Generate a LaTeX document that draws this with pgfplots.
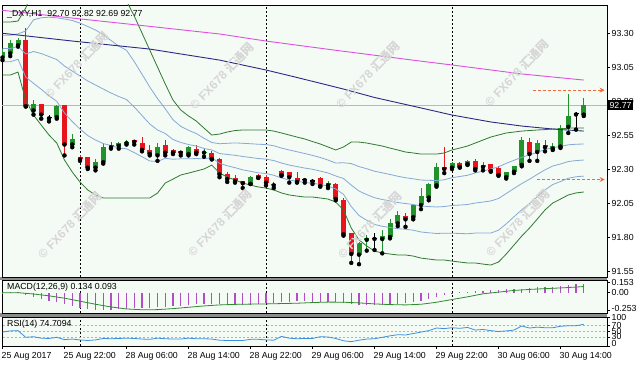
\documentclass[border=0pt]{standalone}
\usepackage{pgfplots}
\pgfplotsset{compat=1.18}
\usepackage{pgfplotstable}
\usepackage{fontspec}
\setmainfont{Liberation Sans}
\newfontfamily\cjk{Noto Sans CJK SC}
\usetikzlibrary{arrows.meta}
\definecolor{plotbg}{HTML}{F4FAF4}
\definecolor{cgreen}{HTML}{22922A}
\definecolor{cred}{HTML}{E8141C}
\definecolor{bbgreen}{HTML}{2F7A2F}
\definecolor{bbblue}{HTML}{86A9D6}
\definecolor{navyline}{HTML}{2A2A86}
\definecolor{magline}{HTML}{E050E0}
\definecolor{macdpurple}{HTML}{B44CC8}
\definecolor{sigline}{HTML}{2E8B2E}
\definecolor{rsiblue}{HTML}{3D8FDB}
\definecolor{arrorange}{HTML}{F06A3C}
\definecolor{sepgray}{HTML}{8C8C8C}

\pgfplotstableread{
i O H L C
0 93.12 93.18 93.10 93.16
1 93.15 93.25 93.13 93.23
2 93.21 93.26 93.20 93.25
4 92.73 92.81 92.70 92.78
7 92.68 92.77 92.67 92.76
9 92.48 92.56 92.46 92.52
12 92.31 92.37 92.29 92.35
13 92.35 92.49 92.34 92.46
15 92.47 92.50 92.45 92.49
16 92.49 92.51 92.48 92.50
20 92.40 92.49 92.36 92.46
24 92.41 92.47 92.40 92.46
26 92.42 92.45 92.39 92.428
32 92.19 92.25 92.19 92.24
42 92.18 92.21 92.16 92.20
46 91.67 91.765 91.60 91.755
47 91.78 91.815 91.70 91.795
49 91.785 91.85 91.68 91.81
50 91.80 91.93 91.79 91.90
51 91.90 91.99 91.88 91.96
53 91.945 92.045 91.93 92.035
54 92.035 92.16 92.005 92.10
55 92.09 92.20 92.07 92.19
56 92.18 92.345 92.17 92.315
58 92.31 92.355 92.30 92.345
60 92.335 92.365 92.33 92.36
62 92.315 92.35 92.29 92.33
65 92.24 92.28 92.23 92.275
66 92.28 92.325 92.27 92.32
67 92.33 92.535 92.32 92.515
69 92.425 92.51 92.36 92.49
71 92.45 92.49 92.44 92.47
72 92.465 92.62 92.455 92.60
73 92.61 92.85 92.565 92.69
75 92.70 92.82 92.69 92.77
}\bull

\pgfplotstableread{
i O H L C
3 93.25 93.34 92.76 92.76
5 92.78 92.78 92.67 92.70
8 92.77 92.77 92.40 92.48
10 92.39 92.40 92.36 92.37
11 92.39 92.39 92.30 92.31
14 92.48 92.50 92.45 92.46
17 92.51 92.51 92.48 92.50
18 92.49 92.535 92.43 92.44
19 92.44 92.48 92.40 92.41
21 92.48 92.51 92.40 92.42
22 92.44 92.45 92.41 92.42
23 92.43 92.43 92.40 92.42
25 92.45 92.48 92.41 92.42
27 92.42 92.43 92.37 92.375
28 92.37 92.38 92.24 92.26
29 92.26 92.275 92.205 92.225
30 92.235 92.255 92.20 92.21
31 92.21 92.21 92.16 92.195
33 92.255 92.26 92.235 92.235
34 92.24 92.255 92.18 92.20
35 92.19 92.205 92.16 92.18
36 92.285 92.29 92.25 92.255
37 92.28 92.28 92.20 92.24
38 92.235 92.28 92.20 92.205
41 92.235 92.24 92.17 92.175
43 92.19 92.20 92.07 92.08
44 92.07 92.09 91.81 91.82
45 91.83 91.83 91.61 91.675
52 91.955 91.975 91.875 91.93
57 92.315 92.46 92.27 92.30
59 92.345 92.35 92.31 92.315
61 92.36 92.37 92.29 92.30
63 92.335 92.34 92.28 92.285
64 92.31 92.32 92.25 92.255
68 92.50 92.53 92.36 92.41
70 92.475 92.51 92.43 92.46
}\bear

\pgfplotstableread{
i O H L C
6 92.672 92.70 92.65 92.680
39 92.218 92.235 92.20 92.226
40 92.208 92.225 92.19 92.216
48 91.786 91.83 91.705 91.794
74 92.701 92.72 92.59 92.709
}\doji

\pgfplotstableread{
i GU BU M BL GL
0 93.381 93.283 93.186 93.089 92.991
1 93.381 93.283 93.186 93.089 92.991
2 93.388 93.294 93.201 93.107 93.013
3 93.484 93.315 93.146 92.976 92.807
4 93.631 93.397 93.164 92.930 92.697
5 93.675 93.412 93.149 92.886 92.623
6 93.704 93.416 93.127 92.839 92.550
7 93.719 93.412 93.105 92.798 92.491
8 93.748 93.403 93.057 92.712 92.366
9 93.763 93.392 93.020 92.649 92.278
10 93.763 93.373 92.984 92.594 92.204
11 93.748 93.348 92.947 92.546 92.146
12 93.726 93.322 92.918 92.513 92.109
13 93.690 93.289 92.888 92.487 92.087
14 93.631 93.245 92.859 92.473 92.087
15 93.579 93.204 92.833 92.453 92.087
16 93.535 93.173 92.811 92.449 92.087
17 93.425 93.090 92.756 92.421 92.087
18 93.300 92.997 92.693 92.390 92.087
19 93.175 92.903 92.631 92.359 92.087
20 93.050 92.818 92.587 92.355 92.123
21 92.925 92.743 92.561 92.379 92.197
22 92.807 92.662 92.517 92.372 92.226
23 92.734 92.614 92.495 92.375 92.256
24 92.690 92.585 92.480 92.375 92.270
25 92.653 92.561 92.469 92.377 92.285
26 92.601 92.526 92.451 92.375 92.300
27 92.550 92.495 92.440 92.384 92.329
28 92.557 92.486 92.414 92.342 92.271
29 92.572 92.489 92.407 92.324 92.241
30 92.583 92.492 92.401 92.310 92.219
31 92.587 92.489 92.392 92.294 92.197
32 92.587 92.486 92.385 92.283 92.182
33 92.587 92.482 92.377 92.272 92.168
34 92.587 92.480 92.373 92.267 92.160
35 92.579 92.471 92.362 92.254 92.146
36 92.565 92.454 92.344 92.234 92.124
37 92.550 92.440 92.329 92.219 92.109
38 92.535 92.427 92.318 92.210 92.101
39 92.521 92.414 92.307 92.201 92.094
40 92.502 92.400 92.298 92.196 92.094
41 92.484 92.385 92.285 92.186 92.087
42 92.462 92.366 92.271 92.175 92.079
43 92.440 92.344 92.249 92.153 92.057
44 92.462 92.346 92.230 92.114 91.999
45 92.498 92.340 92.182 92.024 91.866
46 92.498 92.318 92.138 91.958 91.778
47 92.491 92.302 92.112 91.923 91.734
48 92.480 92.284 92.089 91.893 91.697
49 92.469 92.272 92.076 91.879 91.682
50 92.454 92.260 92.065 91.870 91.675
51 92.440 92.247 92.054 91.861 91.668
52 92.425 92.236 92.046 91.857 91.668
53 92.418 92.228 92.039 91.850 91.660
54 92.410 92.219 92.028 91.837 91.645
55 92.410 92.217 92.024 91.831 91.638
56 92.410 92.215 92.021 91.826 91.631
57 92.418 92.221 92.024 91.828 91.631
58 92.440 92.236 92.032 91.828 91.623
59 92.454 92.245 92.035 91.826 91.616
60 92.469 92.254 92.039 91.824 91.609
61 92.491 92.271 92.050 91.829 91.609
62 92.513 92.285 92.057 91.829 91.601
63 92.535 92.300 92.065 91.829 91.594
64 92.550 92.316 92.083 91.850 91.616
65 92.565 92.342 92.120 91.897 91.675
66 92.572 92.364 92.157 91.949 91.741
67 92.579 92.386 92.193 92.000 91.807
68 92.583 92.404 92.225 92.046 91.866
69 92.587 92.423 92.260 92.096 91.932
70 92.590 92.443 92.294 92.146 91.999
71 92.594 92.458 92.322 92.186 92.050
72 92.594 92.465 92.337 92.208 92.079
73 92.601 92.478 92.355 92.232 92.109
74 92.601 92.482 92.362 92.243 92.124
75 92.601 92.484 92.366 92.248 92.131
}\bands

\pgfplotstableread{
i v
-1 93.305
0 93.298
9 93.241
19 93.182
28 93.101
34 93.028
38 92.973
44 92.888
48 92.826
54 92.749
58 92.697
63 92.646
67 92.616
71 92.594
75 92.579
}\navyma

\pgfplotstableread{
i v
-1 93.473
0 93.467
9 93.410
19 93.349
28 93.293
34 93.241
43 93.173
54 93.093
58 93.065
67 92.999
75 92.954
}\magma

\pgfplotstableread{
i v
0 0.004
1 0.006
2 0.008
3 -0.035
4 -0.057
5 -0.097
6 -0.122
7 -0.132
8 -0.171
9 -0.196
10 -0.221
11 -0.246
12 -0.253
13 -0.253
14 -0.253
15 -0.246
16 -0.246
17 -0.231
18 -0.231
19 -0.221
20 -0.206
21 -0.206
22 -0.196
23 -0.196
24 -0.181
25 -0.171
26 -0.171
27 -0.166
28 -0.171
29 -0.181
30 -0.181
31 -0.181
32 -0.181
33 -0.171
34 -0.156
35 -0.156
36 -0.142
37 -0.132
38 -0.122
39 -0.122
40 -0.132
41 -0.132
42 -0.132
43 -0.142
44 -0.156
45 -0.171
46 -0.181
47 -0.181
48 -0.181
49 -0.181
50 -0.181
51 -0.171
52 -0.156
53 -0.142
54 -0.117
55 -0.097
56 -0.057
57 -0.033
58 -0.008
59 0.012
60 0.017
61 0.027
62 0.032
63 0.042
64 0.042
65 0.052
66 0.056
67 0.056
68 0.076
69 0.081
70 0.086
71 0.091
72 0.106
73 0.116
74 0.131
75 0.134
}\macdhist

\pgfplotstableread{
i v
-1 0.002
0 0.002
2 0.002
4 -0.018
6 -0.045
8 -0.080
10 -0.125
12 -0.170
14 -0.210
16 -0.240
18 -0.252
20 -0.250
22 -0.235
24 -0.215
26 -0.195
28 -0.180
30 -0.172
32 -0.168
34 -0.165
36 -0.160
38 -0.155
40 -0.145
42 -0.138
44 -0.140
46 -0.150
48 -0.165
50 -0.175
52 -0.180
54 -0.170
55 -0.156
56 -0.140
57 -0.120
58 -0.100
60 -0.060
62 -0.015
64 0.010
66 0.035
68 0.050
70 0.062
72 0.072
74 0.085
75 0.093
}\macdsig

\pgfplotstableread{
i v
0 48
1 52
2 53
3 30
4 32
5 27
6 26
7 30
8 22
9 24
10 21
11 19
12 21
13 26
14 25
15 26
16 27
17 26
18 24
19 23
20 27
21 25
22 24
23 24
24 27
25 25
26 25
27 24
28 20
29 19
30 19
31 19
32 23
33 23
34 21
35 20
36 33
37 27
38 25
39 26
40 26
41 32
42 31
43 26
44 18
45 15
46 20
47 24
48 25
49 30
50 35
51 39
52 38
53 43
54 48
55 53
56 62
57 60
58 63
59 61
60 64
61 55
62 57
63 53
64 50
65 52
66 55
67 69
68 62
69 65
70 63
71 63
72 68
73 70
74 70
75 74.7
}\rsi

\begin{document}
\begin{tikzpicture}
\useasboundingbox (0,0) rectangle (640bp,372bp);
\fill[white] (0,0) rectangle (640bp,372bp);
\fill[sepgray] (0bp,92bp) rectangle (607.4bp,95bp);
\fill[sepgray] (0bp,55bp) rectangle (607.4bp,59bp);

\pgfplotsset{panel/.style={
  scale only axis, width=605bp, xmin=-0.065, xmax=78.0,
  axis background/.style={fill=plotbg},
  axis line style={black, line width=0.8bp},
  tick style={black, line width=0.6bp}, major tick length=3bp,
  tick align=outside, ytick pos=right, yticklabel pos=right,
  yticklabel style={anchor=west, inner sep=0pt, xshift=1.5bp},
  tick label style={font=\fontsize{8.8}{10}\selectfont},
  /pgf/number format/assume math mode=true,
  xtick=\empty,
  extra x ticks={10,34,58}, extra x tick labels={,,},
  extra x tick style={grid=major, major tick length=0pt,
     major grid style={black, line width=0.6bp, dash pattern=on 2bp off 2bp}},
}}

% ---------------- main price panel
\begin{axis}[panel, at={(2bp,95bp)}, anchor=south west, height=272bp,
  ymin=91.506, ymax=93.506,
  ytick={91.55,91.80,92.05,92.30,92.55,92.80,93.05,93.30},
  yticklabels={91.55,91.80,92.05,92.30,92.55,92.80,93.05,93.30},
  extra y ticks={92.77}, extra y tick labels={},
  extra y tick style={grid=major, major tick length=0pt, major grid style={gray!55, line width=0.6bp}},
]
% wicks
\addplot[only marks, mark=none, forget plot, error bars/.cd, y dir=plus, y explicit, error mark=none,
  error bar style={line width=1bp, draw=cgreen}] table[x=i, y=L, y error plus expr=\thisrow{H}-\thisrow{L}] {\bull};
\addplot[only marks, mark=none, forget plot, error bars/.cd, y dir=plus, y explicit, error mark=none,
  error bar style={line width=1bp, draw=cred}] table[x=i, y=L, y error plus expr=\thisrow{H}-\thisrow{L}] {\bear};
\addplot[only marks, mark=none, forget plot, error bars/.cd, y dir=plus, y explicit, error mark=none,
  error bar style={line width=1bp, draw=black}] table[x=i, y=L, y error plus expr=\thisrow{H}-\thisrow{L}] {\doji};
% bodies
\addplot[only marks, mark=none, forget plot, error bars/.cd, y dir=plus, y explicit, error mark=none,
  error bar style={line width=5bp, draw=cgreen}] table[x=i, y=O, y error plus expr=\thisrow{C}-\thisrow{O}] {\bull};
\addplot[only marks, mark=none, forget plot, error bars/.cd, y dir=plus, y explicit, error mark=none,
  error bar style={line width=5bp, draw=cred}] table[x=i, y=C, y error plus expr=\thisrow{O}-\thisrow{C}] {\bear};
\addplot[only marks, mark=none, forget plot, error bars/.cd, y dir=plus, y explicit, error mark=none,
  error bar style={line width=5bp, draw=black}] table[x=i, y=O, y error plus expr=\thisrow{C}-\thisrow{O}] {\doji};
% indicator lines
\addplot[bbgreen, line width=0.8bp] table[x=i, y=GU] {\bands};
\addplot[bbgreen, line width=0.8bp] table[x=i, y=GL] {\bands};
\addplot[bbblue, line width=0.8bp] table[x=i, y=BU] {\bands};
\addplot[bbblue, line width=0.8bp] table[x=i, y=M] {\bands};
\addplot[bbblue, line width=0.8bp] table[x=i, y=BL] {\bands};
\addplot[navyline, line width=0.9bp] table[x=i, y=v] {\navyma};
\addplot[magline, line width=0.9bp] table[x=i, y=v] {\magma};
% support / resistance arrows
\draw[arrorange, line width=0.8bp, dash pattern=on 3bp off 2bp, -{Stealth[length=5bp,width=5bp]}] (axis cs:68.5,92.88) -- (axis cs:77.7,92.88);
\draw[arrorange, line width=0.8bp, dash pattern=on 3bp off 2bp, -{Stealth[length=5bp,width=5bp]}] (axis cs:69.0,92.223) -- (axis cs:77.7,92.223);
\coordinate (bid) at (axis cs:78.0,92.77);
\end{axis}

% ---------------- MACD panel
\begin{axis}[panel, at={(2bp,59bp)}, anchor=south west, height=33bp,
  ymin=-0.30, ymax=0.19,
  ytick={-0.253,0,0.153},
  yticklabels={\raisebox{2.8bp}{-0.253},0.00,\raisebox{-3.2bp}{0.153}},
]
\addplot[ycomb, macdpurple, line width=1.2bp] table[x=i, y=v] {\macdhist};
\addplot[sigline, line width=0.8bp] table[x=i, y=v] {\macdsig};
\end{axis}

% ---------------- RSI panel
\begin{axis}[panel, at={(2bp,26bp)}, anchor=south west, height=29bp,
  ymin=0, ymax=100,
  ytick={0,30,50,70,100},
  yticklabels={\raisebox{4.5bp}{0},\raisebox{1bp}{30},50,70,\raisebox{-4bp}{100}},
  xtick={0,8,16,24,32,40,48,56,64,72},
  xticklabels={25 Aug 2017,25 Aug 22:00,28 Aug 06:00,28 Aug 14:00,28 Aug 22:00,29 Aug 06:00,29 Aug 14:00,29 Aug 22:00,30 Aug 06:00,30 Aug 14:00},
  xtick pos=left,
  xticklabel style={anchor=north west, inner sep=0pt, xshift=-1bp, yshift=-3.5bp},
]
\draw[gray!60, line width=0.5bp, dash pattern=on 2bp off 2bp] (axis cs:-1,70) -- (axis cs:80,70);
\draw[gray!60, line width=0.5bp, dash pattern=on 2bp off 2bp] (axis cs:-1,50) -- (axis cs:80,50);
\draw[gray!60, line width=0.5bp, dash pattern=on 2bp off 2bp] (axis cs:-1,30) -- (axis cs:80,30);
\addplot[rsiblue, line width=0.8bp] table[x=i, y=v] {\rsi};
\end{axis}

% labels
\node[anchor=west, inner sep=0pt, font=\fontsize{8.8}{10}\selectfont] at (7bp,358bp) {\_DXY,H1\ \ 92.70 92.82 92.69 92.77};
\node[anchor=west, inner sep=0pt, font=\fontsize{8.8}{10}\selectfont] at (7bp,84.7bp) {MACD(12,26,9) 0.134 0.093};
\node[anchor=west, inner sep=0pt, font=\fontsize{8.8}{10}\selectfont] at (7bp,48bp) {RSI(14) 74.7094};
\node[anchor=west, fill=black, text=white, inner xsep=1.8bp, inner ysep=2bp, font=\fontsize{8.8}{10}\selectfont] at ([xshift=0.6bp]bid) {92.77};

% watermarks
\foreach \wx/\wy in {77/307, 222/296, 368/297, 517/299, 70/147, 220/149, 370/147, 518/149}{
  \node[rotate=46, text=black!16, font=\fontsize{12}{14}\selectfont\bfseries] at (\wx bp,\wy bp) {\textcopyright\ FX678 {\cjk 汇通网}};
}
\end{tikzpicture}
\end{document}
